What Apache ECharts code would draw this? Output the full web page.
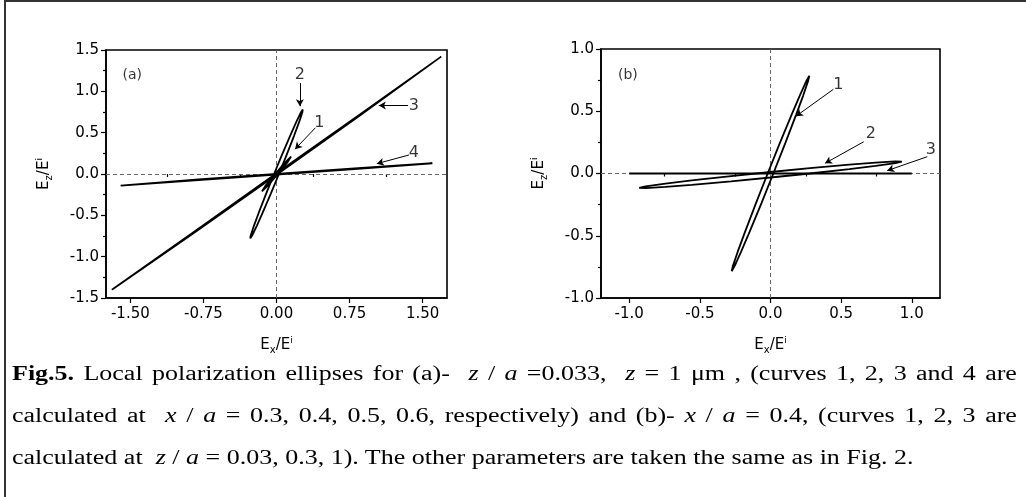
<!DOCTYPE html>
<html>
<head>
<meta charset="utf-8">
<script src="https://cdn.jsdelivr.net/npm/echarts@6/dist/echarts.min.js"></script>
<style>
html, body { margin: 0; padding: 0; background: #fff; }
#wrap { position: relative; width: 1026px; height: 497px; overflow: hidden; }
#main { position: absolute; left: 0; top: 0; width: 1026px; height: 497px; }
#frame { position: absolute; left: 4px; top: 0; width: 1040px; height: 520px;
  border-left: 2px solid #333; border-top: 2px solid #333; pointer-events: none; }
#caption { position: absolute; left: 12px; top: 352px; width: 773px;
  transform: scaleX(1.3); transform-origin: 0 0;
  font-family: "Liberation Serif", "DejaVu Serif", serif; font-size: 20px; color: #000; }
#caption .ln { height: 42px; line-height: 42px; white-space: nowrap; }
#caption .jf { text-align: justify; text-align-last: justify; white-space: normal; }
</style>
</head>
<body>
<div id="wrap">
  <div id="main"></div>
  <div id="frame"></div>
  <div id="caption">
    <div class="ln jf"><b>Fig.5.</b> Local polarization ellipses for (a)-&nbsp; <i>z</i> / <i>a</i> =0.033,&nbsp; <i>z</i> = 1 μm , (curves 1, 2, 3 and 4 are</div>
    <div class="ln jf">calculated at&nbsp; <i>x</i> / <i>a</i> = 0.3, 0.4, 0.5, 0.6, respectively) and (b)- <i>x</i> / <i>a</i> = 0.4, (curves 1, 2, 3 are</div>
    <div class="ln">calculated at&nbsp; <i>z</i> / <i>a</i> = 0.03, 0.3, 1). The other parameters are taken the same as in Fig. 2.</div>
  </div>
</div>
<script>
// panel (a): curves 1..4 at x/a = 0.3, 0.4, 0.5, 0.6
var curveA1 = [[-0.15,-0.21],[-0.094,-0.147],[0.015,0],[0.116,0.147],[0.15,0.21],
               [0.094,0.147],[-0.015,0],[-0.116,-0.147],[-0.15,-0.21]];
var curveA2 = [[-0.27,-0.78],[-0.249,-0.741],[-0.201,-0.624],[-0.142,-0.468],[-0.057,-0.234],[0.025,0],
               [0.105,0.234],[0.182,0.468],[0.231,0.624],[0.264,0.741],[0.27,0.78],
               [0.249,0.741],[0.201,0.624],[0.142,0.468],[0.057,0.234],[-0.025,0],
               [-0.105,-0.234],[-0.182,-0.468],[-0.231,-0.624],[-0.264,-0.741],[-0.27,-0.78]];
var curveA3 = [[-1.69,-1.40],[-0.845,-0.698],[0,0.008],[0.845,0.712],[1.69,1.42],
               [0.845,0.698],[0,-0.008],[-0.845,-0.712],[-1.69,-1.40]];
var curveA4 = [[-1.6,-0.14],[-0.8,-0.065],[0,0.001],[0.8,0.068],[1.6,0.13],
               [0.8,0.06],[0,-0.008],[-0.8,-0.074],[-1.6,-0.14]];

// panel (b): curves 1..3 at z/a = 0.03, 0.3, 1
var curveB1 = [[-0.275,-0.785],[-0.255,-0.746],[-0.208,-0.628],[-0.149,-0.471],[-0.063,-0.236],[0.02,0],
               [0.102,0.236],[0.181,0.471],[0.232,0.628],[0.267,0.746],[0.275,0.785],
               [0.255,0.746],[0.208,0.628],[0.149,0.471],[0.063,0.236],[-0.02,0],
               [-0.102,-0.236],[-0.181,-0.471],[-0.232,-0.628],[-0.267,-0.746],[-0.275,-0.785]];
var curveB2 = [[-0.93,-0.115],[-0.884,-0.103],[-0.744,-0.081],[-0.558,-0.055],[-0.279,-0.021],[0,0.012],
               [0.279,0.043],[0.558,0.071],[0.744,0.087],[0.884,0.097],[0.93,0.095],
               [0.884,0.083],[0.744,0.061],[0.558,0.035],[0.279,0.0],[0,-0.032],
               [-0.279,-0.063],[-0.558,-0.091],[-0.744,-0.107],[-0.884,-0.117],[-0.93,-0.115]];
var curveB3 = [[-1.0,0],[1.0,0],[-1.0,0]];

// tick values
var xTicksA = [-1.5, -0.75, 0, 0.75, 1.5];
var xMinorA = [-1.125, -0.375, 0.375, 1.125];
var xTicksB = [-1, -0.5, 0, 0.5, 1];
var xMinorB = [-0.75, -0.25, 0.25, 0.75];

// curve numbers and arrows (data coordinates)
var numA = ['1', '2', '3', '4'];
var numPosA = [[0.44, 0.62], [0.24, 1.20], [1.41, 0.82], [1.41, 0.26]];
var arrowsA = [[[0.40, 0.56], [0.19, 0.30]], [[0.24, 1.10], [0.24, 0.82]],
               [[1.35, 0.83], [1.05, 0.83]], [[1.36, 0.23], [1.03, 0.125]]];
var numB = ['1', '2', '3'];
var numPosB = [[0.48, 0.71], [0.71, 0.315], [1.136, 0.19]];
var arrowsB = [[[0.445, 0.676], [0.18, 0.46]], [[0.66, 0.255], [0.386, 0.082]],
               [[1.11, 0.135], [0.826, 0.023]]];

var FONT = 'DejaVu Sans, Liberation Sans, sans-serif';

var axisName = function(sub) {
    return '{b|E}{s|' + sub + '}{b|/E}{p|i}';
};
var makeRich = function(size) {
    return {
        b: { fontSize: size, fontFamily: FONT, color: '#000' },
        s: { fontSize: size - 5, fontFamily: FONT, color: '#000', verticalAlign: 'bottom', padding: [9, 0, 0, 0] },
        p: { fontSize: size - 6, fontFamily: FONT, color: '#000', verticalAlign: 'top', padding: [0, 0, 9, 0] }
    };
};

var mainX = function(grid, min, max, ticks, digits) {
    return {
        type: 'value', gridIndex: grid, min: min, max: max, position: 'bottom',
        name: axisName('x'), nameLocation: 'middle', nameGap: 38,
        nameTextStyle: { rich: makeRich(15) },
        axisLine: { onZero: false, lineStyle: { color: '#000', width: 1.6 } },
        axisTick: { customValues: ticks, length: 5, lineStyle: { color: '#000', width: 1.2 } },
        axisLabel: { customValues: ticks, margin: 9, color: '#000', fontSize: 15, fontFamily: FONT,
            formatter: function(v) { return v.toFixed(digits); } },
        splitLine: { show: false }
    };
};
var minorX = function(grid, min, max, ticks) {
    return {
        type: 'value', gridIndex: grid, min: min, max: max, position: 'bottom',
        axisLine: { show: false },
        axisTick: { customValues: ticks, length: 3, lineStyle: { color: '#000', width: 1.2 } },
        axisLabel: { show: false },
        splitLine: { show: false }
    };
};
var mainY = function(grid, min, max) {
    return {
        type: 'value', gridIndex: grid, min: min, max: max, interval: 0.5, position: 'left',
        name: axisName('z'), nameLocation: 'middle', nameGap: 52, nameRotate: 90,
        nameTextStyle: { rich: makeRich(15) },
        axisLine: { onZero: false, lineStyle: { color: '#000', width: 1.6 } },
        axisTick: { length: 5, lineStyle: { color: '#000', width: 1.2 } },
        minorTick: { show: true, splitNumber: 2, length: 3, lineStyle: { color: '#000', width: 1.2 } },
        axisLabel: { margin: 7, color: '#000', fontSize: 15, fontFamily: FONT,
            formatter: function(v) { return v.toFixed(1); } },
        splitLine: { show: false }
    };
};

var curve = function(data, xi, yi) {
    return {
        type: 'line', data: data, xAxisIndex: xi, yAxisIndex: yi, z: 3,
        symbol: 'none', smooth: false, silent: true,
        lineStyle: { color: '#000', width: 1.8 }
    };
};

// dashed zero lines, kept under the curves
var zeroLines = function(xi, yi) {
    return {
        type: 'line', data: [], xAxisIndex: xi, yAxisIndex: yi, z: 1, silent: true,
        markLine: {
            z: 1, silent: true, symbol: 'none', label: { show: false },
            lineStyle: { color: '#666', type: [4, 3], width: 1 },
            data: [{ xAxis: 0 }, { yAxis: 0 }]
        }
    };
};

var notes = function(texts, pos, arrows, tag, tagPos, xi, yi) {
    var pts = [];
    for (var i = 0; i < texts.length; i++) {
        pts.push({ name: texts[i], value: pos[i] });
    }
    pts.push({ name: tag, value: tagPos, label: { fontSize: 14 } });
    var lines = [];
    for (var j = 0; j < arrows.length; j++) {
        lines.push([{ coord: arrows[j][0] }, { coord: arrows[j][1] }]);
    }
    return {
        type: 'scatter', data: pts, xAxisIndex: xi, yAxisIndex: yi, z: 4, silent: true,
        symbolSize: 0,
        label: { show: true, position: 'inside', formatter: '{b}', color: '#000',
            fontSize: 16, fontFamily: FONT },
        markLine: {
            silent: true, symbol: ['none', 'arrow'], symbolSize: [6, 7], label: { show: false },
            lineStyle: { color: '#000', type: 'solid', width: 1 },
            data: lines
        }
    };
};

var option = {
    animation: false,
    grid: [
        { left: 106, top: 50, width: 341, height: 248, show: true, borderColor: '#000', borderWidth: 1.6 },
        { left: 601, top: 49, width: 339, height: 249, show: true, borderColor: '#000', borderWidth: 1.6 }
    ],
    xAxis: [
        mainX(0, -1.75, 1.75, xTicksA, 2),
        minorX(0, -1.75, 1.75, xMinorA),
        mainX(1, -1.2, 1.2, xTicksB, 1),
        minorX(1, -1.2, 1.2, xMinorB)
    ],
    yAxis: [
        mainY(0, -1.5, 1.5),
        mainY(1, -1, 1)
    ],
    series: [
        zeroLines(0, 0),
        curve(curveA1, 0, 0),
        curve(curveA2, 0, 0),
        curve(curveA3, 0, 0),
        curve(curveA4, 0, 0),
        notes(numA, numPosA, arrowsA, '(a)', [-1.48, 1.19], 0, 0),
        zeroLines(2, 1),
        curve(curveB1, 2, 1),
        curve(curveB2, 2, 1),
        curve(curveB3, 2, 1),
        notes(numB, numPosB, arrowsB, '(b)', [-1.01, 0.79], 2, 1)
    ]
};

var myChart = echarts.init(document.getElementById('main'));
myChart.setOption(option);
</script>
</body>
</html>
